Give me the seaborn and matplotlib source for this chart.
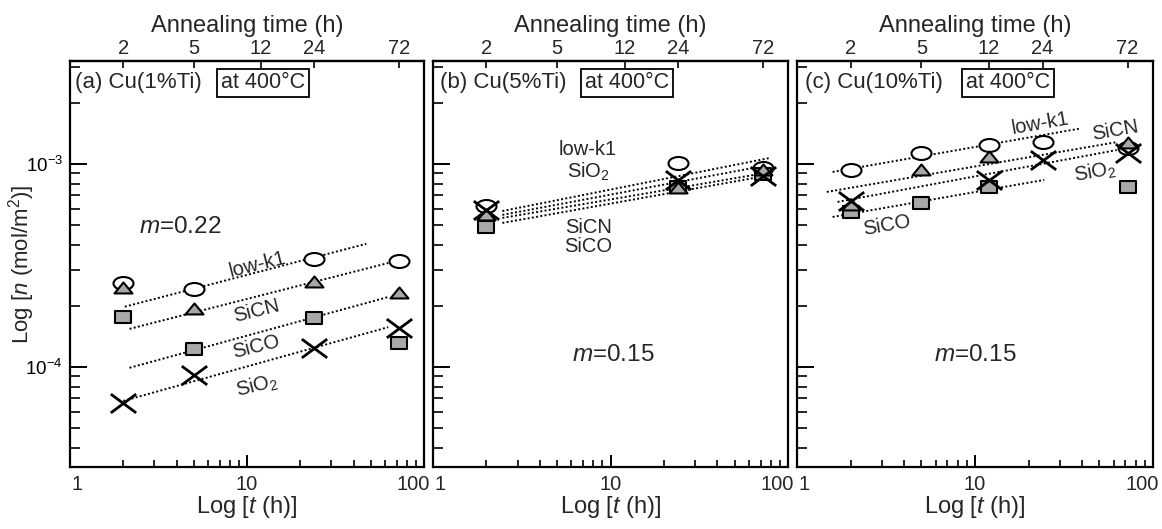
import numpy as np
import pandas as pd
import matplotlib
matplotlib.use("Agg")
import matplotlib.pyplot as plt
from matplotlib.path import Path
from matplotlib.transforms import Affine2D
from matplotlib.ticker import LogLocator, FuncFormatter, FixedLocator, NullLocator, FixedFormatter
import seaborn as sns

# ---------------- data ----------------
films = ["low-k1", "SiCN", "SiCO", "SiO2"]
top_ticks = [2, 5, 12, 24, 72]
top_tick_labels = ["2", "5", "12", "24", "72"]
bottom_ticks = [1, 10, 100]
bottom_tick_labels = ["1", "10", "100"]

# (a) Cu(1%Ti)
times_a = [2, 5, 24, 72]
a_lowk1 = [2.60e-4, 2.42e-4, 3.40e-4, 3.32e-4]
a_sicn = [2.45e-4, 1.93e-4, 2.62e-4, 2.32e-4]
a_sico = [1.76e-4, 1.23e-4, 1.74e-4, 1.31e-4]
a_sio2 = [6.65e-5, 9.14e-5, 1.24e-4, 1.56e-4]

# (b) Cu(5%Ti)
times_b = [2, 24, 72]
b_lowk1 = [6.2e-4, 1.01e-3, 9.6e-4]
b_sicn = [5.6e-4, 7.6e-4, 9.3e-4]
b_sico = [4.9e-4, 7.7e-4, 8.9e-4]
b_sio2 = [5.9e-4, 8.3e-4, 8.7e-4]

# (c) Cu(10%Ti)
times_c = [2, 5, 12, 24, 72]
c_lowk1 = [9.35e-4, 1.13e-3, 1.24e-3, 1.28e-3, 1.20e-3]
c_sicn = [6.28e-4, 9.35e-4, 1.08e-3, np.nan, 1.27e-3]
c_sico = [5.81e-4, 6.42e-4, 7.70e-4, np.nan, 7.70e-4]
c_sio2 = [6.57e-4, np.nan, 8.35e-4, 1.05e-3, 1.13e-3]

# dotted fit lines (order: low-k1, SiCN, SiCO, SiO2)
fit_a_t0 = [2.04, 2.17, 2.17, 2.0]
fit_a_t1 = [47.2, 62.8, 62.8, 62.8]
fit_a_n0 = [1.98e-4, 1.54e-4, 9.9e-5, 6.8e-5]
fit_a_n1 = [4.04e-4, 3.25e-4, 2.21e-4, 1.57e-4]

fit_b_t0 = [2.46, 2.46, 2.46, 2.46]
fit_b_t1 = [79, 79, 79, 79]
fit_b_n0 = [5.86e-4, 5.61e-4, 5.42e-4, 5.12e-4]
fit_b_n1 = [1.07e-3, 9.9e-4, 9.1e-4, 8.8e-4]

fit_c_t0 = [1.585, 1.47, 1.585, 1.69]
fit_c_t1 = [38.3, 62.5, 24.5, 62.5]
fit_c_n0 = [9.13e-4, 7.28e-4, 5.48e-4, 6.5e-4]
fit_c_n1 = [1.49e-3, 1.28e-3, 8.34e-4, 1.17e-3]

panel_titles = ["(a) Cu(1%Ti)", "(b) Cu(5%Ti)", "(c) Cu(10%Ti)"]
temp_label = "at 400°C"
slope_labels = [r"$\mathit{m}$=0.22", r"$\mathit{m}$=0.15", r"$\mathit{m}$=0.15"]
film_labels = ["low-k1", "SiCN", "SiCO", r"SiO$_2$"]

# ---------------- style ----------------
sns.set_theme(style="ticks")
plt.rcParams["font.family"] = ["Liberation Sans", "DejaVu Sans"]
plt.rcParams["mathtext.fontset"] = "custom"
plt.rcParams["mathtext.rm"] = "Liberation Sans"
plt.rcParams["mathtext.it"] = "Liberation Sans:italic"
plt.rcParams["mathtext.bf"] = "Liberation Sans:bold"
plt.rcParams["mathtext.default"] = "regular"

GRAY = "#a8a8a8"


def norm_path(verts, codes=None):
    verts = np.asarray(verts, float)
    m = np.abs(verts).max()
    return Path(verts / m, codes), verts[:, 0].max() / m


circle_path = Affine2D().scale(1.0, 0.65).transform_path(Path.unit_circle())
tri_path, tri_w = norm_path([(-1, -0.55), (1, -0.55), (0, 0.67), (-1, -0.55)],
                            [Path.MOVETO, Path.LINETO, Path.LINETO, Path.CLOSEPOLY])
sq_path, sq_w = norm_path([(-1, -0.69), (1, -0.69), (1, 0.69), (-1, 0.69), (-1, -0.69)],
                          [Path.MOVETO, Path.LINETO, Path.LINETO, Path.LINETO, Path.CLOSEPOLY])


def x_shape(a=1.0, b=0.74, h=0.11):
    verts, codes = [], []
    for (x0, y0, x1, y1) in [(-a, -b, a, b), (-a, b, a, -b)]:
        d = np.array([x1 - x0, y1 - y0])
        d = d / np.linalg.norm(d)
        n = np.array([-d[1], d[0]])
        p0, p1 = np.array([x0, y0]), np.array([x1, y1])
        pts = [p0 + h * n, p1 + h * n, p1 - h * n, p0 - h * n, p0 + h * n]
        verts += [tuple(p) for p in pts]
        codes += [Path.MOVETO, Path.LINETO, Path.LINETO, Path.LINETO, Path.CLOSEPOLY]
    return norm_path(verts, codes)


x_path, x_w = x_shape()

PT = 0.72  # points per pixel at dpi 100
marker_specs = {
    "low-k1": dict(marker=circle_path, s=(20 * PT) ** 2, color="white", edgecolor="black", linewidth=1.5),
    "SiCO": dict(marker=sq_path, s=(16 * PT / sq_w) ** 2, color=GRAY, edgecolor="black", linewidth=1.5),
    "SiCN": dict(marker=tri_path, s=(18 * PT / tri_w) ** 2, color=GRAY, edgecolor="black", linewidth=1.5),
    "SiO2": dict(marker=x_path, s=(27 * PT / x_w) ** 2, color="black", edgecolor="black", linewidth=0),
}
draw_order = ["low-k1", "SiCO", "SiCN", "SiO2"]

panels = [
    dict(t=times_a, vals={"low-k1": a_lowk1, "SiCN": a_sicn, "SiCO": a_sico, "SiO2": a_sio2},
         fit=(fit_a_t0, fit_a_t1, fit_a_n0, fit_a_n1)),
    dict(t=times_b, vals={"low-k1": b_lowk1, "SiCN": b_sicn, "SiCO": b_sico, "SiO2": b_sio2},
         fit=(fit_b_t0, fit_b_t1, fit_b_n0, fit_b_n1)),
    dict(t=times_c, vals={"low-k1": c_lowk1, "SiCN": c_sicn, "SiCO": c_sico, "SiO2": c_sio2},
         fit=(fit_c_t0, fit_c_t1, fit_c_n0, fit_c_n1)),
]

# layout (pixels)
W, H = 1162, 529
lefts = [70, 433, 797]
rights = [424, 788, 1153]
top_px, bot_px = 61, 467

# label placements in axes fraction (x, y, rotation)
film_label_pos = [
    [(0.531, 0.498, 14), (0.528, 0.384, 14), (0.525, 0.296, 14), (0.528, 0.200, 14)],
    [(0.437, 0.781, 0), (0.437, 0.591, 0), (0.437, 0.542, 0), (0.437, 0.727, 0)],
    [(0.683, 0.847, 10), (0.893, 0.830, 10), (0.253, 0.596, 10), (0.837, 0.727, 10)],
]
slope_pos = [(0.311, 0.591), (0.507, 0.276), (0.50, 0.276)]
title_x = [0.014, 0.020, 0.022]
box_x = [0.545, 0.547, 0.592]

fig = plt.figure(figsize=(W / 100, H / 100), dpi=100)

for i, p in enumerate(panels):
    ax = fig.add_axes([lefts[i] / W, 1 - bot_px / H, (rights[i] - lefts[i]) / W, (bot_px - top_px) / H])
    ax.set_xscale("log")
    ax.set_yscale("log")
    ax.set_xlim(1, 100)
    ax.set_ylim(10 ** -4.493, 10 ** -2.493)

    # fit lines
    t0s, t1s, n0s, n1s = p["fit"]
    for k in range(len(films)):
        sns.lineplot(x=[t0s[k], t1s[k]], y=[n0s[k], n1s[k]], ax=ax, color="black",
                     linewidth=1.4, linestyle=(0, (1, 1.2)), zorder=2)

    # markers
    for f in draw_order:
        df = pd.DataFrame({"t": p["t"], "n": p["vals"][f]}).dropna()
        sns.scatterplot(data=df, x="t", y="n", ax=ax, zorder=3, legend=False, **marker_specs[f])

    # spines & ticks
    for sp in ax.spines.values():
        sp.set_linewidth(1.6)
        sp.set_color("black")
    ax.xaxis.set_major_locator(FixedLocator(bottom_ticks))
    ax.xaxis.set_minor_locator(LogLocator(base=10, subs=np.arange(2, 10)))
    ax.xaxis.set_major_formatter(FuncFormatter(lambda v, pos: ""))
    ax.xaxis.set_minor_formatter(FuncFormatter(lambda v, pos: ""))
    ax.yaxis.set_major_locator(LogLocator(base=10))
    ax.yaxis.set_minor_locator(LogLocator(base=10, subs=np.arange(2, 10)))
    ax.yaxis.set_major_formatter(FuncFormatter(lambda v, pos: r"10$^{%d}$" % round(np.log10(v))))
    ax.yaxis.set_minor_formatter(FuncFormatter(lambda v, pos: ""))
    ax.tick_params(axis="x", which="major", direction="in", length=9, width=1.4,
                   top=False, bottom=True, labelsize=14.5, pad=8, colors="black")
    ax.tick_params(axis="x", which="minor", direction="in", length=5, width=1.4, top=False, bottom=True)
    ax.tick_params(axis="y", which="major", direction="in", length=12, width=1.4,
                   left=True, right=False, labelsize=13.5, pad=5, labelleft=(i == 0), colors="black")
    ax.tick_params(axis="y", which="minor", direction="in", length=7, width=1.4, left=True, right=False)

    # bottom tick labels (end labels tucked inside like the original)
    has = ["left", "center", "right"]
    offs = [1, 0, 4]
    for tv, tl, ha, dx in zip(bottom_ticks, bottom_tick_labels, has, offs):
        ax.annotate(tl, xy=(tv, 0), xycoords=("data", "axes fraction"), xytext=(dx, -6),
                    textcoords="offset points", ha=ha, va="top", fontsize=14.5)

    ax.set_xlabel(r"Log [$\mathit{t}$ (h)]", fontsize=17)
    ax.xaxis.set_label_coords(0.5, -0.066)
    if i == 0:
        ax.set_ylabel(r"Log [$\mathit{n}$ (mol/m$^2$)]", fontsize=16)
        ax.yaxis.set_label_coords(-0.094, 0.5)
    else:
        ax.set_ylabel("")

    sec = ax.secondary_xaxis("top")
    sec.set_xscale("log")
    sec.xaxis.set_major_locator(FixedLocator(top_ticks))
    sec.xaxis.set_major_formatter(FixedFormatter(top_tick_labels))
    sec.xaxis.set_minor_locator(NullLocator())
    sec.tick_params(axis="x", which="major", direction="in", length=5, width=1.4, labelsize=14.5, pad=2)
    sec.spines["top"].set_linewidth(1.6)
    sec.set_xlabel("Annealing time (h)", fontsize=17, labelpad=5)

    # annotations
    ax.text(title_x[i], 0.946, panel_titles[i], transform=ax.transAxes, fontsize=16,
            ha="left", va="center")
    ax.text(box_x[i], 0.946, temp_label, transform=ax.transAxes, fontsize=15.5, ha="center", va="center",
            bbox=dict(boxstyle="square,pad=0.18", fc="white", ec="black", lw=1.3))
    ax.text(slope_pos[i][0], slope_pos[i][1], slope_labels[i], transform=ax.transAxes, fontsize=17.5,
            ha="center", va="center")
    for k, lab in enumerate(film_labels):
        x, y, rot = film_label_pos[i][k]
        ax.text(x, y, lab, transform=ax.transAxes, fontsize=14.5, ha="center", va="center",
                rotation=rot, rotation_mode="anchor")

fig.savefig("out.png", dpi=100)
